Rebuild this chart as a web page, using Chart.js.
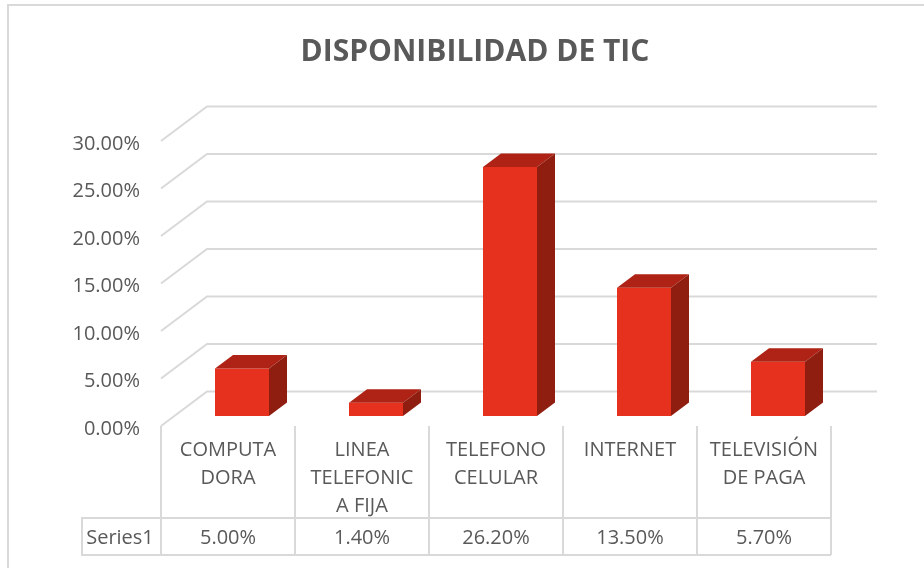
<!DOCTYPE html>
<html>
<head>
<meta charset="utf-8">
<style>
  body { margin: 0; background: #fff; }
  canvas { display: block; }
</style>
<script src="https://cdn.jsdelivr.net/npm/chart.js@4"></script>
</head>
<body>
<canvas id="chart" width="924" height="568"></canvas>
<script>
const categories = [["COMPUTA", "DORA"], ["LINEA", "TELEFONIC", "A FIJA"], ["TELEFONO", "CELULAR"], ["INTERNET"], ["TELEVISIÓN", "DE PAGA"]];
const seriesName = "Series1";
const seriesValues = [5.0, 1.4, 26.2, 13.5, 5.7];
const yTicks = [0, 5, 10, 15, 20, 25, 30];

const textColor = "#595959";
const gridColor = "#D9D9D9";
const font = "Open Sans";

function pct(v) {
  return v.toFixed(2) + "%";
}

// walls, floor and data table, drawn behind the bars
const backdrop = {
  id: "backdrop",
  afterLayout(chart) {
    // tick labels sit left of the scale box, widen it so they are not clipped
    chart.scales.y.left = 40;
  },
  beforeDatasetsDraw(chart) {
    const ctx = chart.ctx;
    const y = chart.scales.y;
    const x = chart.scales.x;
    const left = x.left;
    const right = x.right;

    ctx.save();
    ctx.strokeStyle = gridColor;
    ctx.lineWidth = 2;

    // chart frame
    ctx.beginPath();
    ctx.moveTo(8, 568);
    ctx.lineTo(8, 5);
    ctx.lineTo(924, 5);
    ctx.stroke();

    // gridlines run along the back wall and down the side wall
    yTicks.forEach(function(t) {
      const py = y.getPixelForValue(t);
      ctx.beginPath();
      ctx.moveTo(left - 14, py + 10);
      ctx.lineTo(left + 32, py - 24.5);
      ctx.lineTo(right + 32, py - 24.5);
      ctx.stroke();
    });

    // table lines
    const step = (right - left) / categories.length;
    const tableLeft = left - 14;
    const floorY = y.getPixelForValue(0) + 10;
    for (let i = 0; i <= categories.length; i++) {
      ctx.beginPath();
      ctx.moveTo(tableLeft + i * step, floorY);
      ctx.lineTo(tableLeft + i * step, 555);
      ctx.stroke();
    }
    ctx.beginPath();
    ctx.moveTo(tableLeft + categories.length * step, 518);
    ctx.lineTo(82, 518);
    ctx.lineTo(82, 555);
    ctx.lineTo(tableLeft + categories.length * step, 555);
    ctx.stroke();

    // table text
    ctx.fillStyle = textColor;
    ctx.font = "20px '" + font + "'";
    ctx.textBaseline = "middle";
    ctx.textAlign = "center";
    ctx.fillText(seriesName, 120, 538);
    seriesValues.forEach(function(v, i) {
      ctx.fillText(pct(v), tableLeft + (i + 0.5) * step, 538);
    });
    ctx.restore();
  },
  // top and side faces of each bar
  afterDatasetsDraw(chart) {
    const ctx = chart.ctx;
    const dx = 18, dy = 13.5;
    chart.getDatasetMeta(0).data.forEach(function(bar) {
      const l = bar.x - bar.width / 2;
      const r = bar.x + bar.width / 2;
      ctx.fillStyle = "#AE2315";
      ctx.beginPath();
      ctx.moveTo(l, bar.y);
      ctx.lineTo(l + dx, bar.y - dy);
      ctx.lineTo(r + dx, bar.y - dy);
      ctx.lineTo(r, bar.y);
      ctx.closePath();
      ctx.fill();
      ctx.fillStyle = "#8F1D10";
      ctx.beginPath();
      ctx.moveTo(r, bar.y);
      ctx.lineTo(r + dx, bar.y - dy);
      ctx.lineTo(r + dx, bar.base - dy);
      ctx.lineTo(r, bar.base);
      ctx.closePath();
      ctx.fill();
    });
  }
};

new Chart(document.getElementById("chart"), {
  type: "bar",
  data: {
    labels: categories,
    datasets: [{
      label: seriesName,
      data: seriesValues,
      backgroundColor: "#E5311E",
      barPercentage: 0.403,
      categoryPercentage: 1
    }]
  },
  plugins: [backdrop],
  options: {
    responsive: false,
    animation: false,
    layout: { padding: { left: 105, right: 79, top: 0, bottom: 0 } },
    plugins: {
      legend: { display: false },
      tooltip: { enabled: false },
      title: {
        display: true,
        text: "DISPONIBILIDAD DE TIC",
        color: textColor,
        font: { family: font, size: 30, weight: "bold", lineHeight: 1.2 },
        padding: { top: 34, bottom: 61 }
      }
    },
    scales: {
      x: {
        grid: { display: false, drawTicks: false },
        border: { display: false },
        afterFit(scale) { scale.height = 152; },
        ticks: {
          color: textColor,
          font: { family: font, size: 20, lineHeight: 1.4 },
          maxRotation: 0,
          autoSkip: false,
          padding: 20,
          labelOffset: -14
        }
      },
      y: {
        min: 0,
        max: 30,
        grid: { display: false, drawTicks: false },
        border: { display: false },
        afterFit(scale) { scale.width = 70; },
        ticks: {
          stepSize: 5,
          color: textColor,
          font: { family: font, size: 20 },
          padding: 35,
          labelOffset: 13,
          callback: function(v) { return pct(v); }
        }
      }
    }
  }
});
</script>
</body>
</html>
